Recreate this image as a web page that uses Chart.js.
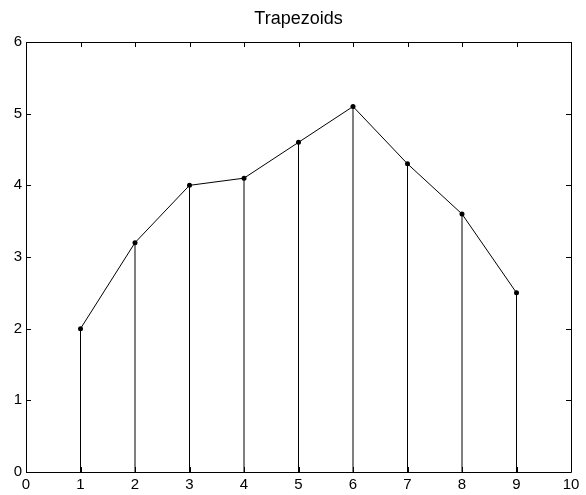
<!DOCTYPE html>
<html>
<head>
<meta charset="utf-8">
<script src="https://cdn.jsdelivr.net/npm/chart.js@4"></script>
<style>
  html, body { margin: 0; padding: 0; background: #fff; }
  #wrap { width: 586px; height: 495px; }
</style>
</head>
<body>
<div id="wrap"><canvas id="graf"></canvas></div>
<script>
// dados
const xs = [1, 2, 3, 4, 5, 6, 7, 8, 9];
const ys = [2.0, 3.2, 4.0, 4.1, 4.6, 5.1, 4.3, 3.6, 2.5];
const xTicks = [0, 1, 2, 3, 4, 5, 6, 7, 8, 9, 10];
const yTicks = [0, 1, 2, 3, 4, 5, 6];
const titulo = 'Trapezoids';

const fonte = 'Liberation Sans, Arial, Helvetica, sans-serif';
const pontos = xs.map((x, i) => ({ x: x, y: ys[i] }));

// uma linha vertical (0 -> y) para cada ponto
const hastes = xs.map((x, i) => ({
    type: 'line',
    data: [{ x: x, y: 0 }, { x: x, y: ys[i] }],
    borderColor: '#000',
    borderWidth: 1,
    pointRadius: 0,
    order: 1
}));

// caixa + marcas para dentro (estilo matlab)
const caixa = {
    id: 'caixa',
    afterDatasetsDraw(chart) {
        const c = chart.ctx;
        const a = chart.chartArea;
        const sx = chart.scales.x, sy = chart.scales.y;
        const len = 5;
        c.save();
        c.strokeStyle = '#000';
        c.lineWidth = 1;
        c.beginPath();
        c.rect(Math.round(a.left) + 0.5, Math.round(a.top) + 0.5,
               Math.round(a.right - a.left), Math.round(a.bottom - a.top));
        xTicks.forEach(v => {
            const px = Math.round(sx.getPixelForValue(v)) + 0.5;
            c.moveTo(px, a.bottom); c.lineTo(px, a.bottom - len);
            c.moveTo(px, a.top); c.lineTo(px, a.top + len);
        });
        yTicks.forEach(v => {
            const py = Math.round(sy.getPixelForValue(v)) + 0.5;
            c.moveTo(a.left, py); c.lineTo(a.left + len, py);
            c.moveTo(a.right, py); c.lineTo(a.right - len, py);
        });
        c.stroke();
        c.restore();
    }
};

const ctx = document.getElementById('graf').getContext('2d');
new Chart(ctx, {
    type: 'line',
    data: {
        datasets: [
            {
                type: 'line',
                data: pontos,
                borderColor: '#000',
                borderWidth: 1,
                backgroundColor: '#000',
                pointRadius: 2.5,
                pointBackgroundColor: '#000',
                pointBorderWidth: 0,
                tension: 0,
                order: 0
            }
        ].concat(hastes)
    },
    options: {
        responsive: true,
        maintainAspectRatio: false,
        animation: false,
        layout: { padding: { left: 0, right: 15, top: 0, bottom: 0 } },
        plugins: {
            legend: { display: false },
            tooltip: { enabled: false },
            title: {
                display: true,
                fullSize: false,
                text: titulo,
                color: '#000',
                font: { family: fonte, size: 18, weight: 'normal', lineHeight: 1.2 },
                padding: { top: 8, bottom: 12.4 }
            }
        },
        scales: {
            x: {
                type: 'linear',
                min: 0,
                max: 10,
                offset: false,
                grid: { display: false, drawTicks: false },
                border: { display: false },
                afterBuildTicks: s => { s.ticks = xTicks.map(v => ({ value: v })); },
                afterFit: s => { s.height = 23; },
                ticks: {
                    color: '#000',
                    padding: 4,
                    maxRotation: 0,
                    autoSkip: false,
                    font: { family: fonte, size: 15 }
                }
            },
            y: {
                type: 'linear',
                min: 0,
                max: 6,
                grid: { display: false, drawTicks: false },
                border: { display: false },
                afterBuildTicks: s => { s.ticks = yTicks.map(v => ({ value: v })); },
                afterFit: s => { s.width = 26; },
                ticks: {
                    color: '#000',
                    padding: 4,
                    font: { family: fonte, size: 15 }
                }
            }
        }
    },
    plugins: [caixa]
});
</script>
</body>
</html>
